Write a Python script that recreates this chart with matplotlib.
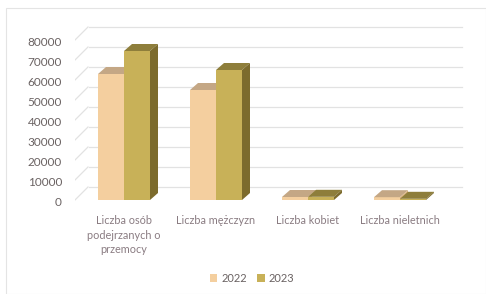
import matplotlib
matplotlib.use("Agg")
import matplotlib.pyplot as plt
from matplotlib.patches import Polygon, Patch, Rectangle

categories = ["Liczba osób\npodejrzanych o\nprzemocy", "Liczba mężczyzn", "Liczba kobiet", "Liczba nieletnich"]
series_names = ["2022", "2023"]
values_2022 = [63000, 55000, 1500, 1400]
values_2023 = [74500, 65000, 1600, 600]
yticks = [0, 10000, 20000, 30000, 40000, 50000, 60000, 70000, 80000]

front_cols = ["#F4CF9F", "#C8B158"]
top_cols = ["#C4A785", "#8E7E3B"]
side_cols = ["#D9B27F", "#7C6B2D"]

plt.rcParams['font.family'] = ['Lato', 'DejaVu Sans']

W, H = 486, 294
fig = plt.figure(figsize=(W/100, H/100), dpi=100)
px0, px1, py_top, py_bot = 75, 470, 20, 215
ax = fig.add_axes([px0/W, 1 - py_bot/H, (px1-px0)/W, (py_bot-py_top)/H])
ax.set_clip_on(False)
ppu_x = 92.0           # pixels per category unit
ppu_y = 2.0/1000.0     # pixels per value unit
cx0 = 124              # pixel of first category center
ax.set_xlim((px0-cx0)/ppu_x, (px1-cx0)/ppu_x)
y0_pix = 203           # front plane zero
ax.set_ylim((y0_pix-py_bot)/ppu_y, (y0_pix-py_top)/ppu_y)
ax.axis('off')

wall_dx = 16/ppu_x
wall_dy = 16/ppu_y
wall_x0 = (89-cx0)/ppu_x
wall_x1 = (462-cx0)/ppu_x
front_x = (72-cx0)/ppu_x
grid_col = "#E2E2E2"
for v in yticks:
    ax.plot([wall_x0, wall_x1], [v+wall_dy, v+wall_dy], color=grid_col, lw=0.9, zorder=1)
    ax.plot([front_x, front_x+wall_dx], [v, v+wall_dy], color=grid_col, lw=0.9, zorder=1)
    ax.text((62-cx0)/ppu_x, v, f"{v}", ha='right', va='center', fontsize=8.5, color="#6A6262",
            clip_on=False)

bw = 26/ppu_x
bar_dx = 8/ppu_x
bar_dy = 7/ppu_y
base = 3/ppu_y
for si, vals in enumerate([values_2022, values_2023]):
    xs = [i - bw + si*bw for i in range(len(categories))]
    ax.bar(xs, vals, width=bw, bottom=base, align='edge', color=front_cols[si],
           edgecolor='none', zorder=3+si*2)
    for x, v in zip(xs, vals):
        top = base + v
        ax.add_patch(Polygon([(x, top), (x+bw, top), (x+bw+bar_dx, top+bar_dy), (x+bar_dx, top+bar_dy)],
                             closed=True, color=top_cols[si], lw=0, zorder=3+si*2))
        ax.add_patch(Polygon([(x+bw, base), (x+bw+bar_dx, base+bar_dy), (x+bw+bar_dx, top+bar_dy), (x+bw, top)],
                             closed=True, color=side_cols[si], lw=0, zorder=3+si*2))

for i, c in enumerate(categories):
    ax.text(i, (y0_pix-215)/ppu_y, c, ha='center', va='top', fontsize=7.8, color="#8A7C82",
            linespacing=1.4, clip_on=False)

handles = [Patch(facecolor=front_cols[k], edgecolor='none') for k in range(2)]
fig.legend(handles, series_names, loc='center', bbox_to_anchor=(252/W, 1-278/H), ncol=2,
           frameon=False, fontsize=8, handlelength=0.7, handleheight=0.7, handletextpad=0.35,
           columnspacing=0.9, labelcolor="#6A6262")

fig.patches.append(Rectangle((6/W, 0), (W-6)/W, 1-8/H, transform=fig.transFigure,
                             fill=False, edgecolor="#E4E4E4", lw=0.8))
fig.savefig("out.png", dpi=100)
